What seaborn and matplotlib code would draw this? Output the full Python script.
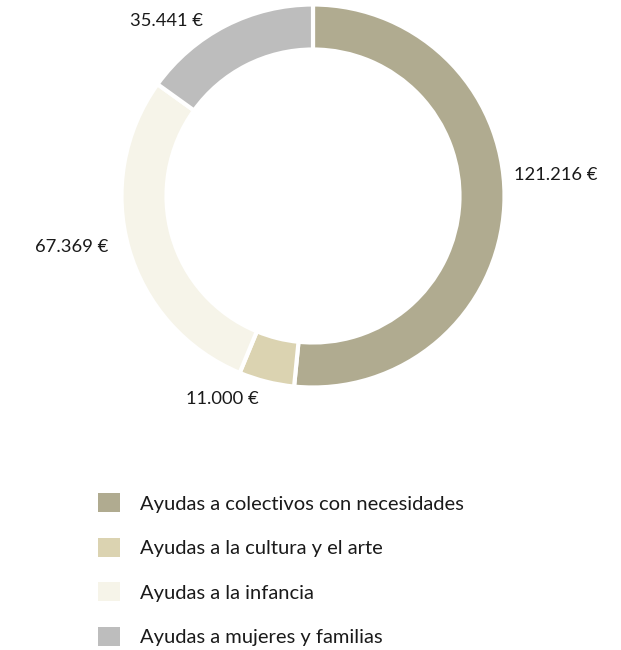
import matplotlib
matplotlib.use("Agg")
import matplotlib.pyplot as plt
from matplotlib.patches import Patch
import seaborn as sns
import numpy as np

categorias = [
    "Ayudas a colectivos con necesidades",
    "Ayudas a la cultura y el arte",
    "Ayudas a la infancia",
    "Ayudas a mujeres y familias",
]
importes = [121216, 11000, 67369, 35441]
etiquetas = ["121.216 €", "11.000 €", "67.369 €", "35.441 €"]
colores = ["#b0ab90", "#dbd3b1", "#f6f4e9", "#bdbdbd"]

# posicion de las etiquetas: (angulo en grados, distancia al centro)
pos_etiquetas = [(5, 1.27), (246, 1.16), (192, 1.29), (130, 1.19)]

sns.set_theme(style="white")
plt.rcParams["font.family"] = ["Lato", "DejaVu Sans"]

W, H = 621, 650
fig = plt.figure(figsize=(W / 100, H / 100), dpi=100)

cx, cy, r = 313, 196, 191.5
ax = fig.add_axes([(cx - r) / W, (H - cy - r) / H, 2 * r / W, 2 * r / H])
ax.pie(
    importes, colors=colores, startangle=90, counterclock=False, radius=1,
    wedgeprops=dict(width=0.235, edgecolor="white", linewidth=3),
)
ax.set_xlim(-1, 1)
ax.set_ylim(-1, 1)
ax.set_aspect("equal")
ax.axis("off")

for txt, (ang, d) in zip(etiquetas, pos_etiquetas):
    a = np.deg2rad(ang)
    ax.text(d * np.cos(a), d * np.sin(a), txt, ha="center", va="center",
            fontsize=13.2, color="#1a1a1a", clip_on=False)

handles = [Patch(facecolor=c, edgecolor="none") for c in colores]
fig.legend(
    handles, categorias, loc="upper left", bbox_to_anchor=(80 / W, 1 - 475 / H),
    frameon=False, fontsize=14.5, handlelength=1.1, handleheight=1.1,
    handletextpad=1.0, labelspacing=1.24, labelcolor="#1a1a1a",
)

fig.savefig("out.png", dpi=100)
